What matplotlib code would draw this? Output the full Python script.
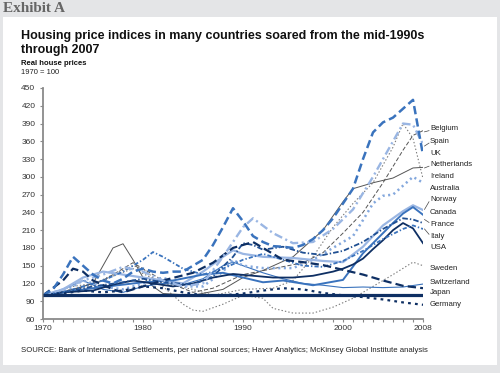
import matplotlib
matplotlib.use("Agg")
import matplotlib.pyplot as plt
from matplotlib.patches import Rectangle
from matplotlib.lines import Line2D

plt.rcParams['font.family'] = ['Liberation Sans', 'DejaVu Sans']
plt.rcParams['lines.scale_dashes'] = False

# ---------------- data (real house prices, 1970 = 100) ----------------
uk_years = [1970, 1971, 1972, 1973, 1974, 1975, 1976, 1977, 1978, 1979, 1980, 1981, 1982, 1983, 1984, 1985,
            1986, 1987, 1988, 1989, 1990, 1991, 1992, 1993, 1994, 1995, 1996, 1997, 1998, 1999, 2000, 2001,
            2002, 2003, 2004, 2005, 2006, 2007, 2008]
uk_vals = [100, 110, 135, 165, 150, 135, 125, 120, 128, 140, 145, 140, 138, 140, 140, 150,
           160, 185, 215, 247, 225, 200, 190, 183, 182, 180, 185, 195, 210, 230, 255, 280,
           330, 375, 392, 400, 415, 430, 337]

spain_years = [1970, 1972, 1974, 1976, 1978, 1980, 1982, 1984, 1986, 1988, 1990, 1991, 1993, 1995, 1997,
               1999, 2001, 2003, 2005, 2006, 2007, 2008]
spain_vals = [100, 110, 125, 135, 148, 140, 125, 115, 120, 165, 215, 230, 205, 188, 190, 212, 245, 300,
              360, 390, 388, 355]

belgium_years = [1970, 1973, 1976, 1979, 1982, 1985, 1987, 1990, 1993, 1996, 1998, 2000, 2002, 2004,
                 2006, 2007, 2008]
belgium_vals = [100, 110, 125, 155, 125, 105, 112, 135, 145, 155, 172, 205, 240, 290, 345, 370, 378]

neth_years = [1970, 1973, 1975, 1976, 1977, 1978, 1979, 1980, 1981, 1982, 1985, 1988, 1990, 1992, 1995,
              1998, 2000, 2001, 2003, 2005, 2007, 2008]
neth_vals = [100, 110, 120, 150, 180, 187, 160, 130, 115, 103, 100, 110, 130, 142, 165, 210, 258, 280,
             290, 298, 315, 316]

ireland_years = [1970, 1973, 1975, 1979, 1982, 1985, 1987, 1990, 1993, 1995, 1997, 1999, 2001, 2003,
                 2005, 2006, 2007, 2008]
ireland_vals = [100, 115, 120, 145, 120, 110, 100, 110, 112, 125, 165, 215, 255, 290, 350, 390, 365, 297]

australia_years = [1970, 1972, 1974, 1976, 1978, 1980, 1982, 1984, 1986, 1988, 1989, 1990, 1992, 1995,
                   1997, 1999, 2001, 2002, 2003, 2004, 2005, 2006, 2007, 2008]
australia_vals = [100, 105, 125, 115, 110, 120, 130, 115, 115, 140, 160, 150, 146, 146, 160, 180, 200,
                  227, 255, 268, 270, 285, 300, 290]

norway_years = [1970, 1972, 1975, 1978, 1980, 1983, 1986, 1988, 1990, 1992, 1994, 1997, 2000, 2002,
                2004, 2005, 2006, 2007, 2008]
norway_vals = [100, 105, 112, 118, 122, 125, 135, 138, 130, 122, 125, 117, 126, 171, 205, 222, 238, 249, 236]

canada_years = [1970, 1972, 1974, 1976, 1978, 1980, 1982, 1984, 1986, 1988, 1989, 1990, 1992, 1995,
                1998, 2000, 2002, 2004, 2006, 2007, 2008]
canada_vals = [100, 110, 130, 140, 135, 130, 125, 120, 140, 165, 176, 170, 165, 163, 158, 156, 182,
               218, 242, 252, 244]

france_years = [1970, 1972, 1975, 1978, 1980, 1982, 1985, 1987, 1989, 1990, 1991, 1992, 1994, 1996,
                1998, 2000, 2002, 2004, 2006, 2007, 2008]
france_vals = [100, 105, 115, 122, 128, 122, 118, 132, 165, 188, 185, 177, 182, 172, 168, 175, 190,
               212, 230, 228, 222]

italy_years = [1970, 1972, 1974, 1976, 1978, 1980, 1981, 1982, 1984, 1986, 1988, 1990, 1992, 1994,
               1996, 1998, 2000, 2002, 2004, 2006, 2007, 2008]
italy_vals = [100, 105, 115, 125, 140, 160, 173, 165, 145, 135, 145, 160, 170, 160, 150, 148, 158,
              175, 195, 212, 218, 212]

usa_years = [1970, 1972, 1975, 1977, 1979, 1981, 1983, 1985, 1987, 1989, 1991, 1993, 1995, 1997, 1999,
             2000, 2001, 2002, 2003, 2004, 2005, 2006, 2007, 2008]
usa_vals = [100, 105, 108, 118, 125, 120, 115, 120, 130, 136, 133, 130, 130, 133, 140, 145, 152, 162,
            178, 193, 210, 222, 213, 188]

sweden_years = [1970, 1972, 1975, 1977, 1979, 1980, 1982, 1984, 1985, 1986, 1988, 1990, 1992, 1993,
                1995, 1997, 1999, 2001, 2003, 2005, 2007, 2008]
sweden_vals = [100, 105, 118, 135, 150, 145, 115, 85, 75, 73, 85, 100, 95, 78, 70, 70, 80, 95, 115,
               135, 156, 150]

swiss_years = [1970, 1972, 1974, 1976, 1978, 1980, 1982, 1984, 1986, 1988, 1989, 1990, 1992, 1994,
               1996, 1998, 2000, 2002, 2004, 2006, 2008]
swiss_vals = [100, 110, 125, 110, 105, 115, 120, 118, 128, 150, 156, 150, 138, 128, 120, 117, 113,
              114, 113, 114, 119]

japan_years = [1970, 1972, 1973, 1974, 1975, 1977, 1978, 1980, 1982, 1985, 1987, 1989, 1991, 1992,
               1994, 1996, 1998, 2000, 2002, 2004, 2006, 2008]
japan_vals = [100, 125, 145, 140, 125, 110, 105, 115, 125, 138, 155, 180, 190, 180, 160, 156, 151,
              143, 135, 125, 116, 112]

germany_years = [1970, 1972, 1974, 1976, 1978, 1980, 1982, 1984, 1986, 1988, 1990, 1992, 1994, 1996,
                 1998, 2000, 2002, 2004, 2006, 2008]
germany_vals = [100, 103, 108, 105, 108, 115, 112, 105, 100, 100, 103, 108, 112, 110, 104, 100, 97,
                93, 88, 84]

base_years = [1970, 2008]
base_vals = [100, 100]

label_names = ["Belgium", "Spain", "UK", "Netherlands", "Ireland", "Australia", "Norway", "Canada",
               "France", "Italy", "USA", "Sweden", "Switzerland", "Japan", "Germany"]
label_vals = [381, 360, 340, 321, 301, 281, 261, 240, 220, 200, 181, 146, 122, 104, 84]
leader_names = ["Belgium", "Spain", "Netherlands", "Norway", "France", "Italy"]
leader_from = [376, 352, 315, 245, 228, 212]

ytick_vals = list(range(60, 451, 30))
xtick_vals = [1970, 1980, 1990, 2000, 2008]

# ---------------- colours ----------------
NAVY = "#0e2f63"
DKBLUE = "#1f4f92"
MDBLUE = "#3a73bd"
LTBLUE = "#9ab6e3"
LTBLUE2 = "#84a8dd"
GRAY = "#555555"
LTGRAY = "#7a7a7a"

fig = plt.figure(figsize=(5.0, 3.73), dpi=100)
fig.patch.set_facecolor("#e4e5e7")
fig.patches.append(Rectangle((3 / 500, 1 - 365 / 373), 494 / 500, 348 / 373,
                             transform=fig.transFigure, facecolor="white", edgecolor="none", zorder=-10))

ax = fig.add_axes([43 / 500, 1 - 319 / 373, 380 / 500, 231 / 373])
ax.set_facecolor("none")
ax.set_zorder(5)

ax.plot(base_years, base_vals, color=NAVY, lw=2.3, solid_capstyle='butt', zorder=3)
ax.plot(sweden_years, sweden_vals, color=LTGRAY, lw=0.8, dashes=(1, 1.5))
ax.plot(ireland_years, ireland_vals, color=LTGRAY, lw=0.8, dashes=(1, 1.5))
ax.plot(belgium_years, belgium_vals, color=GRAY, lw=0.7, dashes=(3, 1.5))
ax.plot(neth_years, neth_vals, color=GRAY, lw=0.7)
ax.plot(swiss_years, swiss_vals, color=MDBLUE, lw=0.8)
ax.plot(australia_years, australia_vals, color=LTBLUE2, lw=1.8, dashes=(1.5, 2.5))
ax.plot(canada_years, canada_vals, color=LTBLUE, lw=1.6)
ax.plot(norway_years, norway_vals, color=MDBLUE, lw=1.4)
ax.plot(usa_years, usa_vals, color=NAVY, lw=1.3)
ax.plot(italy_years, italy_vals, color=MDBLUE, lw=1.3, dashes=(3, 1.5, 1, 1.5))
ax.plot(france_years, france_vals, color=DKBLUE, lw=1.3, dashes=(4, 1.5, 1, 1.5))
ax.plot(japan_years, japan_vals, color=NAVY, lw=1.6, dashes=(6, 3))
ax.plot(germany_years, germany_vals, color=NAVY, lw=1.6, dashes=(2, 3))
ax.plot(spain_years, spain_vals, color=LTBLUE, lw=1.7, dashes=(6, 2.5, 1.5, 2.5))
ax.plot(uk_years, uk_vals, color=MDBLUE, lw=1.8, dashes=(6, 3))

ax.set_xlim(1970, 2008)
ax.set_ylim(60, 450)
for s in ["top", "right"]:
    ax.spines[s].set_visible(False)
for s in ["left", "bottom"]:
    ax.spines[s].set_color("#8a8a8a")
    ax.spines[s].set_linewidth(1.3)

ax.set_yticks(ytick_vals)
ax.set_yticklabels([str(v) for v in ytick_vals])
ax.set_xticks(xtick_vals)
ax.set_xticklabels([str(v) for v in xtick_vals])
ax.set_xticks(range(1970, 2009), minor=True)
ax.tick_params(axis="y", length=2.5, width=0.8, color="#8a8a8a", labelsize=6, labelcolor="#333333", pad=3)
ax.tick_params(axis="x", which="both", length=2.5, width=0.8, color="#8a8a8a", labelsize=6,
               labelcolor="#333333", pad=2)

# labels at the right end
for name, v in zip(label_names, label_vals):
    ax.text(2008.7, v, name, fontsize=5.6, color="#222222", va="center", ha="left", clip_on=False)
for name, v0 in zip(leader_names, leader_from):
    v1 = label_vals[label_names.index(name)]
    ax.add_line(Line2D([2008.15, 2008.6], [v0, v1 + (3 if v1 < v0 else -3)], color="#444444",
                       lw=0.5, clip_on=False))

fig.text(3 / 500, 1 - 9 / 373, "Exhibit A", family=["Liberation Serif", "DejaVu Serif"],
         fontweight="bold", fontsize=11, color="#666666", va="center", ha="left")
fig.text(21 / 500, 1 - 29.5 / 373,
         "Housing price indices in many countries soared from the mid-1990s\nthrough 2007",
         fontsize=9.0, fontweight="bold", color="#111111", va="top", ha="left", linespacing=1.25)
fig.text(21 / 500, 1 - 63.5 / 373, "Real house prices", fontsize=5.5, fontweight="bold",
         color="#111111", va="center", ha="left")
fig.text(21 / 500, 1 - 73 / 373, "1970 = 100", fontsize=5.5, color="#222222", va="center", ha="left")
fig.text(21 / 500, 1 - 351 / 373,
         "SOURCE: Bank of International Settlements, per national sources; Haver Analytics; "
         "McKinsey Global Institute analysis",
         fontsize=5.6, color="#222222", va="center", ha="left")

fig.savefig("out.png", dpi=100, facecolor=fig.get_facecolor())
